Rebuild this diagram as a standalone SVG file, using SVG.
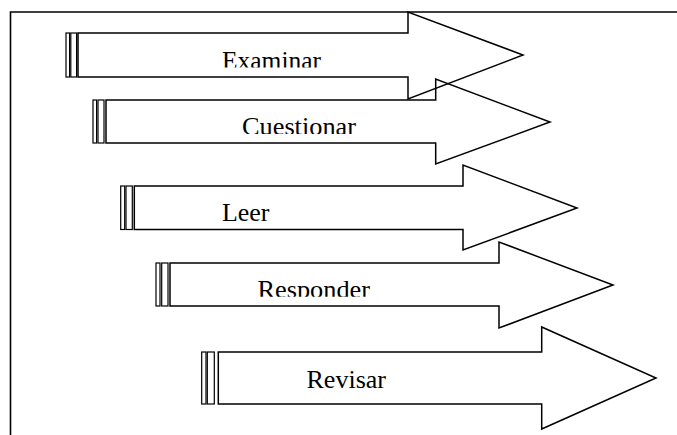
<svg xmlns="http://www.w3.org/2000/svg" width="677" height="435" viewBox="0 0 677 435">
<style>
.frame{fill:none;stroke:#000;stroke-width:1.6}
.arrow{fill:none;stroke:#000;stroke-width:1.5;stroke-linejoin:miter}
.stripe{fill:#fff;stroke:#000;stroke-width:1.2}
.lbl{font-family:'Liberation Serif','Times New Roman',serif;font-size:25px;fill:#000}
</style>
<defs>
<clipPath id="c1"><rect x="0" y="0" width="677" height="67.5"/></clipPath>
<clipPath id="c2"><rect x="0" y="90" width="677" height="44"/></clipPath>
<clipPath id="c4"><rect x="0" y="250" width="677" height="46.8"/></clipPath>
</defs>
<rect width="677" height="435" fill="#fff"/>
<path class="frame" d="M10.5,440 V12 H680"/>
<g id="examinar">
<rect class="stripe" x="66" y="33" width="3.6" height="44"/>
<rect class="stripe" x="70.8" y="33" width="5.8" height="44"/>
<path class="arrow" d="M78,33 H408 V12 L523,55 L408,99 V77 H78 Z"/>
<text class="lbl" x="222" y="68.8" textLength="99" lengthAdjust="spacingAndGlyphs" clip-path="url(#c1)">Examinar</text>
</g>
<g id="cuestionar">
<rect class="stripe" x="93" y="100" width="3.6" height="43"/>
<rect class="stripe" x="98" y="100" width="6" height="43"/>
<path class="arrow" d="M106,100 H435.7 V79 L550,122 L435.7,164 V143 H106 Z"/>
<text class="lbl" x="242" y="134.5" textLength="114" lengthAdjust="spacingAndGlyphs" clip-path="url(#c2)">Cuestionar</text>
</g>
<g id="leer">
<rect class="stripe" x="120.7" y="186" width="4" height="43.5"/>
<rect class="stripe" x="126" y="186" width="6.3" height="43.5"/>
<path class="arrow" d="M134.3,186 H463 V165 L577,208 L463,250 V229.5 H134.3 Z"/>
<text class="lbl" x="222" y="220.5" textLength="47.5" lengthAdjust="spacingAndGlyphs">Leer</text>
</g>
<g id="responder">
<rect class="stripe" x="156" y="263" width="4" height="43"/>
<rect class="stripe" x="161.7" y="263" width="6.3" height="43"/>
<path class="arrow" d="M170,263 H499 V242 L613,285 L499,328 V306 H170 Z"/>
<text class="lbl" x="257.5" y="298.3" textLength="112.5" lengthAdjust="spacingAndGlyphs" clip-path="url(#c4)">Responder</text>
</g>
<g id="revisar">
<rect class="stripe" x="201.7" y="352" width="4.3" height="52"/>
<rect class="stripe" x="207.3" y="352" width="7" height="52"/>
<path class="arrow" d="M218.3,352 H541.7 V327 L656,378 L541.7,429 V404 H218.3 Z"/>
<text class="lbl" x="306.5" y="387.5" textLength="79.5" lengthAdjust="spacingAndGlyphs">Revisar</text>
</g>
<g id="connectors"/>
</svg>
